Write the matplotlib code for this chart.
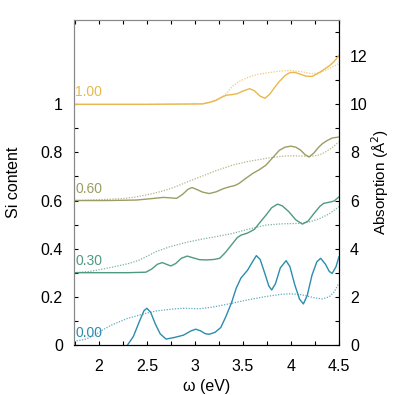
import numpy as np
import matplotlib
matplotlib.use('Agg')
import matplotlib.pyplot as plt
from matplotlib.ticker import MultipleLocator, FormatStrFormatter

plt.rcParams['font.family'] = ['Liberation Sans', 'DejaVu Sans']
plt.rcParams['font.size'] = 11.5

# Si content labels and colours
labels = ['0.00', '0.30', '0.60', '1.00']
offsets = [0, 3, 6, 10]
colors = ['#2b8cae', '#4f9a80', '#9c9d62', '#e9b84c']

# solid curves (absorption, offset included)
x_s00 = [1.74, 2.20, 2.26, 2.30, 2.36, 2.42, 2.47, 2.50, 2.54, 2.59, 2.64, 2.70, 2.78, 2.88, 2.96,
         3.01, 3.06, 3.11, 3.15, 3.21, 3.27, 3.32, 3.38, 3.43, 3.48, 3.55, 3.60, 3.64, 3.68, 3.73,
         3.77, 3.80, 3.84, 3.89, 3.95, 3.99, 4.04, 4.09, 4.13, 4.17, 4.22, 4.27, 4.31, 4.36, 4.40,
         4.43, 4.47, 4.50]
y_s00 = [-1.0, -0.6, -0.25, 0.0, 0.35, 0.95, 1.42, 1.52, 1.35, 0.85, 0.45, 0.24, 0.30, 0.40, 0.58,
         0.65, 0.58, 0.46, 0.44, 0.52, 0.72, 1.15, 1.73, 2.35, 2.78, 3.11, 3.45, 3.71, 3.55, 2.95,
         2.45, 2.28, 2.55, 3.20, 3.50, 3.25, 2.50, 1.90, 1.70, 2.05, 2.90, 3.45, 3.60, 3.35, 3.05,
         2.97, 3.25, 3.66]

x_s30 = [1.74, 2.00, 2.30, 2.49, 2.55, 2.61, 2.66, 2.71, 2.75, 2.80, 2.86, 2.92, 2.98, 3.05, 3.12,
         3.20, 3.26, 3.32, 3.39, 3.44, 3.48, 3.55, 3.62, 3.68, 3.74, 3.80, 3.86, 3.91, 3.98, 4.05,
         4.12, 4.18, 4.24, 4.30, 4.34, 4.40, 4.45, 4.50]
y_s30 = [3.0, 3.0, 3.0, 3.02, 3.15, 3.35, 3.42, 3.34, 3.28, 3.38, 3.60, 3.69, 3.62, 3.54, 3.53,
         3.55, 3.60, 3.85, 4.20, 4.45, 4.56, 4.65, 4.80, 5.10, 5.39, 5.70, 5.85, 5.78, 5.53, 5.20,
         5.02, 5.15, 5.46, 5.75, 5.88, 5.93, 5.98, 6.15]

x_s60 = [1.74, 2.10, 2.39, 2.55, 2.67, 2.75, 2.81, 2.87, 2.93, 2.97, 3.02, 3.08, 3.15, 3.22, 3.30,
         3.36, 3.42, 3.46, 3.53, 3.60, 3.67, 3.74, 3.81, 3.88, 3.94, 4.00, 4.05, 4.10, 4.15, 4.19,
         4.24, 4.29, 4.33, 4.38, 4.43, 4.50]
y_s60 = [6.0, 6.0, 6.02, 6.08, 6.13, 6.11, 6.09, 6.25, 6.47, 6.54, 6.46, 6.35, 6.29, 6.36, 6.50,
         6.57, 6.63, 6.71, 6.92, 7.12, 7.28, 7.47, 7.78, 8.09, 8.22, 8.26, 8.22, 8.10, 7.90, 7.81,
         7.98, 8.22, 8.37, 8.50, 8.60, 8.64]

x_s100 = [1.74, 2.50, 3.08, 3.15, 3.22, 3.28, 3.33, 3.38, 3.44, 3.50, 3.57, 3.62, 3.68, 3.73, 3.78,
          3.83, 3.88, 3.94, 3.99, 4.04, 4.10, 4.16, 4.22, 4.28, 4.33, 4.40, 4.45, 4.50]
y_s100 = [10.0, 10.0, 10.02, 10.08, 10.17, 10.30, 10.38, 10.40, 10.44, 10.55, 10.65, 10.56, 10.34,
          10.25, 10.42, 10.70, 10.95, 11.20, 11.32, 11.33, 11.25, 11.17, 11.16, 11.28, 11.41, 11.60,
          11.78, 12.03]

# dotted curves
x_d00 = [1.74, 1.85, 1.95, 2.04, 2.13, 2.22, 2.30, 2.39, 2.50, 2.60, 2.75, 2.87, 3.05, 3.20, 3.39,
         3.55, 3.74, 3.90, 3.98, 4.08, 4.15, 4.25, 4.33, 4.40, 4.45, 4.50]
y_d00 = [0.15, 0.22, 0.38, 0.62, 0.82, 0.97, 1.10, 1.20, 1.32, 1.41, 1.48, 1.52, 1.50, 1.58, 1.73,
         1.87, 2.01, 2.10, 2.12, 2.10, 2.05, 1.95, 1.91, 2.00, 2.20, 2.56]

x_d30 = [1.74, 1.90, 2.04, 2.20, 2.32, 2.42, 2.49, 2.60, 2.74, 2.90, 3.08, 3.25, 3.39, 3.55, 3.74,
         3.90, 4.09, 4.20, 4.30, 4.40, 4.50]
y_d30 = [3.0, 3.05, 3.15, 3.28, 3.39, 3.52, 3.66, 3.88, 4.08, 4.25, 4.40, 4.52, 4.63, 4.80, 4.98,
         5.03, 5.05, 5.12, 5.25, 5.45, 5.74]

x_d60 = [1.74, 2.04, 2.25, 2.39, 2.55, 2.67, 2.76, 2.84, 2.95, 3.08, 3.22, 3.39, 3.55, 3.74, 3.88,
         3.98, 4.10, 4.22, 4.30, 4.36, 4.43, 4.50]
y_d60 = [6.0, 6.04, 6.08, 6.15, 6.28, 6.40, 6.52, 6.64, 6.82, 7.02, 7.24, 7.47, 7.62, 7.75, 7.83,
         7.86, 7.85, 7.84, 7.90, 8.02, 8.20, 8.44]

x_d100 = [1.74, 2.50, 3.00, 3.10, 3.20, 3.29, 3.34, 3.39, 3.46, 3.57, 3.66, 3.74, 3.88, 4.00, 4.12,
          4.22, 4.30, 4.36, 4.43, 4.50]
y_d100 = [10.0, 10.0, 10.0, 10.02, 10.12, 10.30, 10.50, 10.75, 10.95, 11.15, 11.25, 11.30, 11.38,
          11.41, 11.35, 11.27, 11.32, 11.41, 11.55, 11.69]

solid = [(x_s00, y_s00), (x_s30, y_s30), (x_s60, y_s60), (x_s100, y_s100)]
dotted = [(x_d00, y_d00), (x_d30, y_d30), (x_d60, y_d60), (x_d100, y_d100)]

fig = plt.figure(figsize=(3.95, 3.95), dpi=100)
ax = fig.add_axes([0.187, 0.127, 0.671, 0.822])
ax2 = ax.twinx()

ax.set_xlim(1.74, 4.5)
ax.set_ylim(0, 1.35)
ax2.set_ylim(0, 13.5)

for (xs, ys), (xd, yd), c, lab, off in zip(solid, dotted, colors, labels, offsets):
    ax2.plot(xd, yd, color=c, lw=0.9, ls=(0, (1, 1.2)), alpha=0.75)
    ax2.plot(xs, ys, color=c, lw=1.0)
    ax2.text(1.755, off + 0.5, lab, color=c, va='center', ha='left', fontsize=10)

# ticks
ax.xaxis.set_major_locator(MultipleLocator(0.5))
ax.xaxis.set_minor_locator(MultipleLocator(0.25))
ax.xaxis.set_major_formatter(FormatStrFormatter('%g'))
ax.set_yticks([0, 0.2, 0.4, 0.6, 0.8, 1.0])
ax.set_yticks([0.1, 0.3, 0.5, 0.7, 0.9], minor=True)
ax.yaxis.set_major_formatter(FormatStrFormatter('%g'))
ax2.set_yticks(np.arange(0, 13, 2))
ax2.set_yticks(np.arange(1, 14, 2), minor=True)

ax.tick_params(axis='x', which='both', direction='in', top=True, length=3, width=0.8, pad=10)
ax.tick_params(axis='y', which='both', direction='in', length=3, width=0.8, pad=8)
ax2.tick_params(axis='y', which='both', direction='in', length=3, width=0.8, pad=8)

for sp in ['left', 'top']:
    ax.spines[sp].set_color('#888888')
    ax2.spines[sp].set_color('#888888')
for sp in ['right', 'bottom']:
    ax2.spines[sp].set_color('black')
ax.spines['bottom'].set_color('black')

ax.set_xlabel('ω (eV)', labelpad=4)
ax.set_ylabel('Si content', labelpad=14)
ax2.set_ylabel('Absorption (Å$^2$)', labelpad=1, fontsize=11)

fig.savefig('out.png', dpi=100)
